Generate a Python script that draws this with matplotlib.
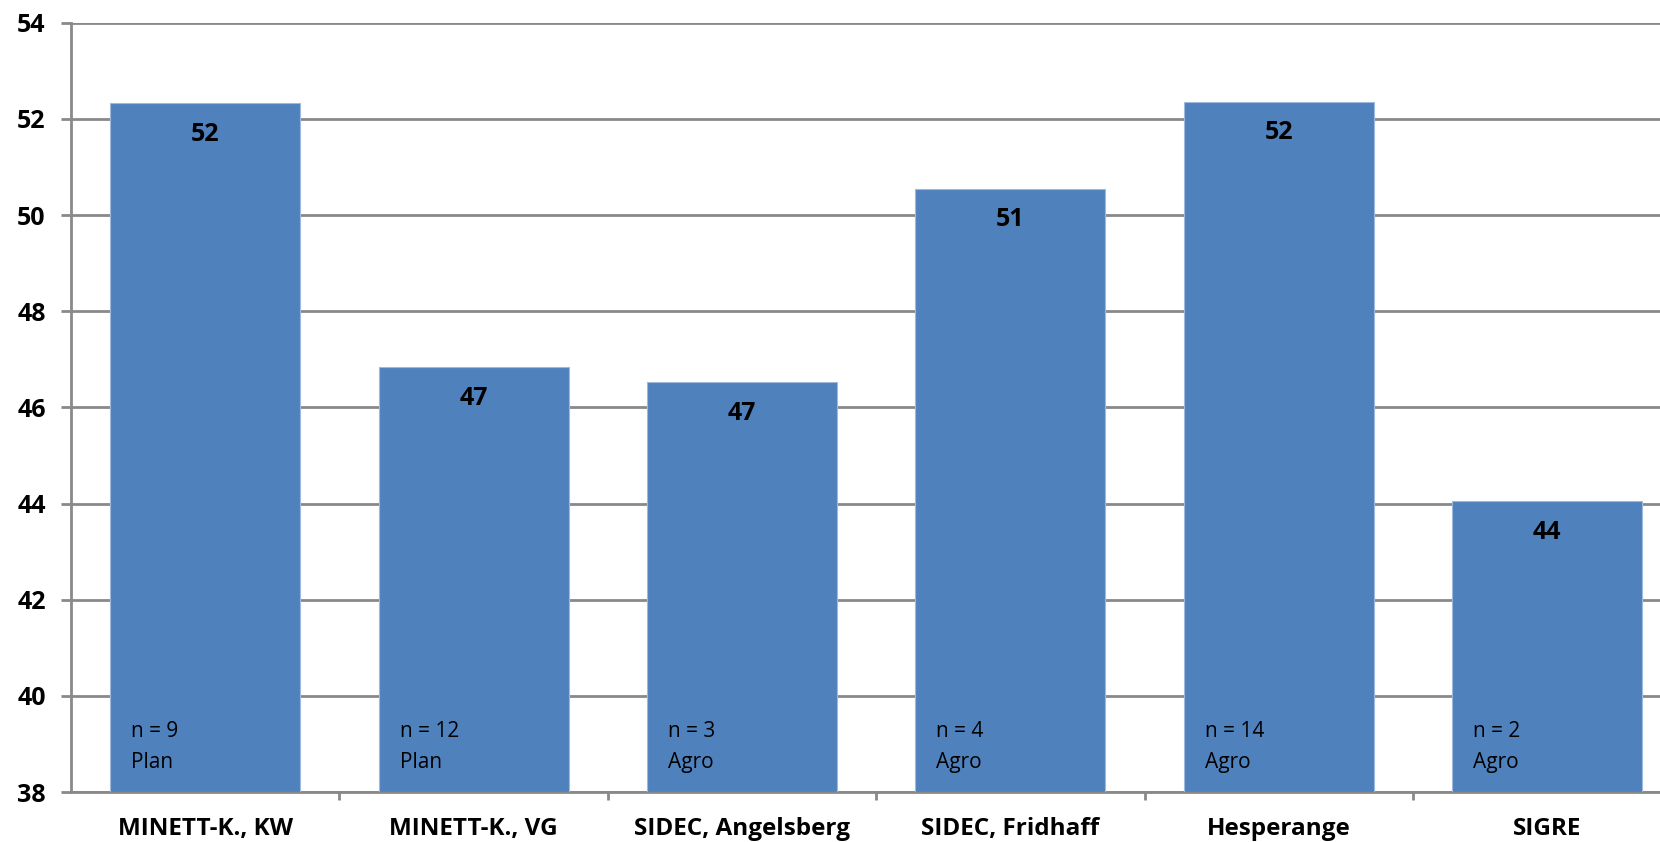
import matplotlib
matplotlib.use("Agg")
import matplotlib.pyplot as plt

categories = ["MINETT-K., KW", "MINETT-K., VG", "SIDEC, Angelsberg",
              "SIDEC, Fridhaff", "Hesperange", "SIGRE"]
values = [52.32, 46.83, 46.52, 50.55, 52.36, 44.05]
value_labels = ["52", "47", "47", "51", "52", "44"]
n_labels = ["n = 9", "n = 12", "n = 3", "n = 4", "n = 14", "n = 2"]
type_labels = ["Plan", "Plan", "Agro", "Agro", "Agro", "Agro"]
yticks = [38, 40, 42, 44, 46, 48, 50, 52, 54]

plt.rcParams['font.family'] = ['Open Sans', 'DejaVu Sans']

fig = plt.figure(figsize=(16.6, 8.42), dpi=100)
ax = fig.add_axes([71/1660, 1-792/842, 1-71/1660, (792-22.7)/842])

x = list(range(len(categories)))
ax.bar(x, [v - 38 for v in values], bottom=38, width=0.708,
       color="#4F81BD", edgecolor="#9DB9DC", linewidth=0.8, zorder=3)

ax.set_ylim(38, 54)
ax.set_xlim(-0.5, 5.42)
ax.set_yticks(yticks)
ax.set_yticklabels([str(t) for t in yticks], fontsize=18, fontweight='bold')
ax.yaxis.grid(True, color="#898989", linewidth=2.0, zorder=0)
ax.set_axisbelow(True)

ax.set_xticks(x)
ax.set_xticklabels(categories, fontsize=17.5, fontweight='bold')
ax.set_xticks([i + 0.5 for i in range(len(categories) - 1)], minor=True)
ax.tick_params(axis='x', which='major', length=0, pad=18)
ax.tick_params(axis='x', which='minor', length=6, width=2, color="#898989")
ax.tick_params(axis='y', which='major', length=7.2, width=2, color="#898989", pad=11)

for s in ["top", "right"]:
    ax.spines[s].set_visible(False)
for s in ["left", "bottom"]:
    ax.spines[s].set_color("#898989")
    ax.spines[s].set_linewidth(2.0)

for i, v in enumerate(values):
    ax.annotate(value_labels[i], xy=(i, v), xytext=(0, -27), textcoords="offset points",
                ha="center", va="baseline", fontsize=18, fontweight="bold", zorder=5)
    ax.text(i - 0.276, 39.14, n_labels[i], ha="left", va="baseline", fontsize=15, zorder=5)
    ax.text(i - 0.276, 38.49, type_labels[i], ha="left", va="baseline", fontsize=15, zorder=5)

fig.savefig("out.png", dpi=100)
